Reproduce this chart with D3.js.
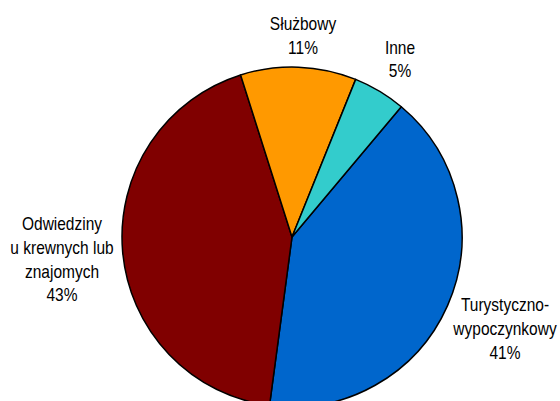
<!DOCTYPE html>
<html><head><meta charset="utf-8">
<script src="https://cdn.jsdelivr.net/npm/d3@7"></script>
<style>body{margin:0;background:#fff}svg{display:block}</style>
</head><body>
<script>
const categories = ["Turystyczno-wypoczynkowy", "Odwiedziny u krewnych lub znajomych", "Służbowy", "Inne"];
const values = [41, 43, 11, 5];
const colors = ["#0066CC", "#800000", "#FF9900", "#33CCCC"];
const labelLines = [["Turystyczno-", "wypoczynkowy", "41%"], ["Odwiedziny", "u krewnych lub", "znajomych", "43%"], ["Służbowy", "11%"], ["Inne", "5%"]];
const labelPos = [[505, 311], [62, 230], [303, 30], [400, 53.5]];

const W = 560, H = 401;
const svg = d3.select("body").append("svg").attr("width", W).attr("height", H);
const cx = 292, cy = 237, r = 170;
const start = 40 * Math.PI / 180;
const pie = d3.pie().sort(null).value(d => d).startAngle(start).endAngle(start + 2 * Math.PI);
const arc = d3.arc().innerRadius(0).outerRadius(r);
const g = svg.append("g").attr("transform", `translate(${cx},${cy})`);
g.selectAll("path").data(pie(values)).join("path")
  .attr("d", arc).attr("fill", (d, i) => colors[i])
  .attr("stroke", "#000").attr("stroke-width", 1.5).attr("stroke-linejoin", "round");

const sy = 1.2, lineH = 23.8;
labelLines.forEach((lines, i) => {
  const t = svg.append("text").attr("text-anchor", "middle")
    .attr("transform", `translate(${labelPos[i][0]},${labelPos[i][1]}) scale(1,${sy})`)
    .attr("font-family", "Liberation Sans, Arial, sans-serif").attr("font-size", 15.5).attr("fill", "#000");
  lines.forEach((s, j) => t.append("tspan").attr("x", 0).attr("y", j * lineH / sy).text(s));
});
</script>
</body></html>
